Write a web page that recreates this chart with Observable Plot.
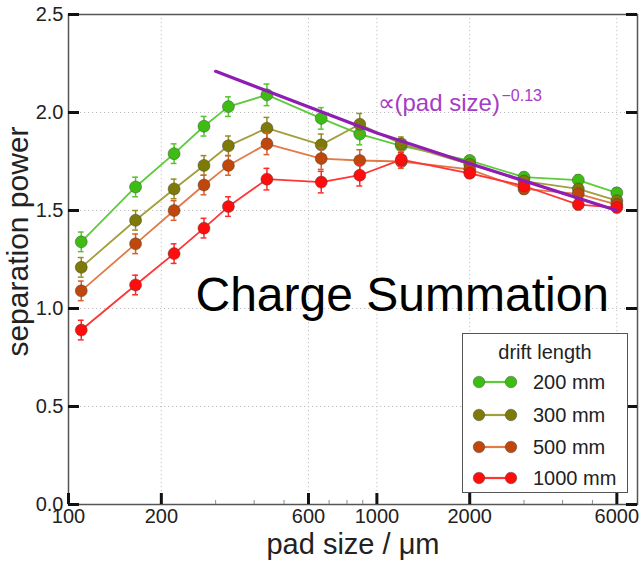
<!DOCTYPE html>
<html><head><meta charset="utf-8">
<script src="https://cdn.jsdelivr.net/npm/d3@7"></script>
<script src="https://cdn.jsdelivr.net/npm/@observablehq/plot@0.6"></script>
<style>
html,body{margin:0;padding:0;background:#fff;}
#wrap{position:relative;width:641px;height:562px;overflow:hidden;}
#wrap svg{display:block;}
#legend{position:absolute;left:462px;top:333px;width:166px;height:160px;border:1.5px solid #555;background:#fff;box-sizing:border-box;font-family:"Liberation Sans",Arial,sans-serif;color:#222;}
#legend .ttl{position:absolute;left:0;right:0;top:6px;text-align:center;font-size:20px;line-height:24px;white-space:nowrap;}
#legend .row{position:absolute;left:8px;height:20px;display:flex;align-items:center;white-space:nowrap;}
#legend .row span{margin-left:10px;font-size:20px;line-height:20px;white-space:nowrap;}
</style></head><body>
<div id="wrap"></div>
<script>
// ---- data ----
const padSize = [110, 165, 220, 275, 330, 440, 660, 880, 1200, 2000, 3000, 4500, 6000];
const driftLengths = ["200 mm", "300 mm", "500 mm", "1000 mm"];
const sep200  = [1.34, 1.62, 1.79, 1.93, 2.03, 2.09, 1.97, 1.89, 1.83, 1.755, 1.67, 1.655, 1.59];
const sep300  = [1.21, 1.45, 1.61, 1.73, 1.83, 1.92, 1.835, 1.94, 1.84, 1.735, 1.65, 1.61, 1.55];
const sep500  = [1.09, 1.33, 1.50, 1.63, 1.73, 1.84, 1.765, 1.755, 1.75, 1.71, 1.61, 1.585, 1.53];
const sep1000 = [0.89, 1.12, 1.28, 1.41, 1.52, 1.66, 1.645, 1.68, 1.76, 1.69, 1.625, 1.53, 1.515];
const sepErr  = [0.05, 0.05, 0.05, 0.05, 0.05, 0.055, 0.055, 0.055, 0.035, 0.025, 0.025, 0.025, 0.025];
const fitPad = [300, 1000, 2000, 6000];
const fitSep = [2.21, 1.895, 1.74, 1.50];
const fitLabel = "∝(pad size)";
const fitExponent = "−0.13";
const yTicks = [0, 0.5, 1.0, 1.5, 2.0, 2.5];
const xTicks = [100, 200, 600, 1000, 2000, 6000];
const xMinorTicks = [300, 400, 500, 700, 800, 900, 3000, 4000, 5000];
const gridX = [200, 600, 1000, 2000, 6000];
const gridY = [0.5, 1.0, 1.5, 2.0];
// ---- styles ----
const dotColors  = ["#3dbd13", "#7d7a08", "#c0470c", "#ff0d0d"];
const lineColors = ["#5ccc3a", "#a29e3c", "#e27a48", "#ff3535"];
const errColors  = ["#52c82c", "#948f20", "#d8602a", "#ff2a2a"];
const purple = "#8f1cb4";
const purpleText = "#a63cc6";
const font = "'Liberation Sans', Arial, sans-serif";

const allSeps = [sep200, sep300, sep500, sep1000];
const rows = [];
allSeps.forEach((arr, s) => arr.forEach((v, i) => rows.push({drift: driftLengths[s], s, pad: padSize[i], sep: v, err: sepErr[i]})));
const fit = fitPad.map((p, i) => ({pad: p, sep: fitSep[i]}));

const W = 641, H = 562, mL = 68, mR = 4, mT = 14, mB = 58;
const fW = W - mL - mR, fH = H - mT - mB;

const marks = [
  Plot.ruleX(gridX, {x: d => d, stroke: "#bdbdbd", strokeDasharray: "1.2,2.8", strokeWidth: 1}),
  Plot.ruleY(gridY, {y: d => d, stroke: "#bdbdbd", strokeDasharray: "1.2,2.8", strokeWidth: 1})
];
driftLengths.forEach((name, s) => {
  const d = rows.filter(r => r.s === s);
  marks.push(
    Plot.line(d, {x: "pad", y: "sep", stroke: lineColors[s], strokeWidth: 1.8}),
    Plot.ruleX(d, {x: "pad", y1: r => r.sep - r.err, y2: r => r.sep + r.err, stroke: errColors[s], strokeWidth: 1.5}),
    Plot.ruleY(d, {y: r => r.sep + r.err, x1: r => r.pad / 1.022, x2: r => r.pad * 1.022, stroke: errColors[s], strokeWidth: 1.5}),
    Plot.ruleY(d, {y: r => r.sep - r.err, x1: r => r.pad / 1.022, x2: r => r.pad * 1.022, stroke: errColors[s], strokeWidth: 1.5}),
    Plot.dot(d, {x: "pad", y: "sep", r: 6, fill: dotColors[s], stroke: "#3a3a3a", strokeOpacity: 0.55, strokeWidth: 0.8})
  );
});
marks.push(
  Plot.line(fit, {x: "pad", y: "sep", stroke: purple, strokeWidth: 3.2}),
  Plot.frame({stroke: "#555", strokeWidth: 1.5}),
  // major ticks (inward)
  Plot.tickY(yTicks, {y: d => d, insetRight: fW - 11, stroke: "#111", strokeWidth: 3}),
  Plot.tickY(yTicks, {y: d => d, insetLeft: fW - 11, stroke: "#111", strokeWidth: 3}),
  Plot.tickX(xTicks, {x: d => d, insetTop: fH - 11, stroke: "#111", strokeWidth: 3}),
  Plot.tickX(xMinorTicks, {x: d => d, insetTop: fH - 4, stroke: "#888", strokeWidth: 1}),
  Plot.axisY(yTicks, {anchor: "left", tickSize: 0, tickPadding: 5, tickFormat: d => d.toFixed(1), fontSize: 20, label: null, fill: "#222"}),
  Plot.text(xTicks, {x: d => d, text: d => String(d), frameAnchor: "bottom", dy: 4, lineAnchor: "top", textAnchor: "middle", fontSize: 20, fill: "#222"}),
  Plot.text(["separation power"], {frameAnchor: "left", textAnchor: "middle", dx: -41, dy: -18, rotate: -90, lineAnchor: "bottom", fontSize: 30, fill: "#222"}),
  Plot.text(["pad size / μm"], {frameAnchor: "bottom", textAnchor: "middle", dy: 49, lineAnchor: "bottom", fontSize: 29, fill: "#222"}),
  Plot.text(["Charge Summation"], {frameAnchor: "top-left", dx: 127, dy: 296, lineAnchor: "bottom", textAnchor: "start", fontSize: 48, fill: "#000"}),
  Plot.text([fitLabel], {frameAnchor: "top-left", dx: 309, dy: 96, lineAnchor: "bottom", textAnchor: "start", fontSize: 24, fill: purpleText}),
  Plot.text([fitExponent], {frameAnchor: "top-left", dx: 433, dy: 86, lineAnchor: "bottom", textAnchor: "start", fontSize: 16, fill: purpleText})
);

const chart = Plot.plot({
  width: W, height: H,
  marginLeft: mL, marginRight: mR, marginTop: mT, marginBottom: mB,
  style: {fontFamily: font, background: "#fff", overflow: "visible"},
  x: {type: "log", domain: [100, 7000], axis: null},
  y: {domain: [0, 2.5], axis: null},
  marks
});
const wrap = document.getElementById("wrap");
wrap.appendChild(chart);

// legend
const leg = document.createElement("div");
leg.id = "legend";
let html = `<div class="ttl">drift length</div>`;
const rowTops = [38, 71, 103, 134];
driftLengths.forEach((name, s) => {
  html += `<div class="row" style="top:${rowTops[s]}px"><svg width="52" height="16"><line x1="8" y1="8" x2="40" y2="8" stroke="${lineColors[s]}" stroke-width="2.2"/><circle cx="8" cy="8" r="5.8" fill="${dotColors[s]}" stroke="#3a3a3a" stroke-opacity="0.5" stroke-width="0.8"/><circle cx="40" cy="8" r="5.8" fill="${dotColors[s]}" stroke="#3a3a3a" stroke-opacity="0.5" stroke-width="0.8"/></svg><span>${name}</span></div>`;
});
leg.innerHTML = html;
wrap.appendChild(leg);
</script>
</body></html>
